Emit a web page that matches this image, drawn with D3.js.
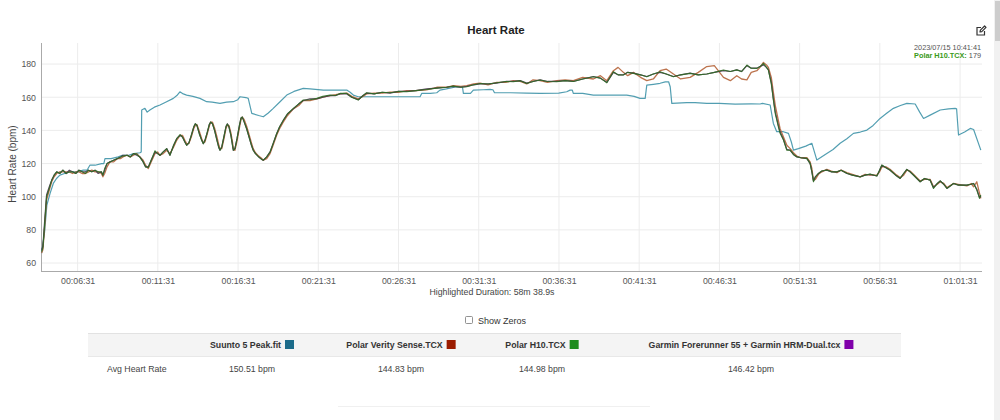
<!DOCTYPE html>
<html><head><meta charset="utf-8">
<script src="https://cdn.jsdelivr.net/npm/d3@7"></script>
<style>
html,body{margin:0;padding:0;background:#fff;}
svg{display:block;font-family:"Liberation Sans",Arial,sans-serif;}
</style></head>
<body>
<svg id="chart" width="1000" height="420"></svg>
<script>
// ---------- DATA ----------
const chartTitle = "Heart Rate";
const yAxisLabel = "Heart Rate (bpm)";
const durationLabel = "Highlighted Duration: 58m 38.9s";
const xTickSeconds = [391, 691, 991, 1291, 1591, 1891, 2191, 2491, 2791, 3091, 3391, 3691];
const yTicks = [60, 80, 100, 120, 140, 160, 180];
const xDomainSec = [254, 3773];
const yDomain = [55.2, 192.7];

const seriesNames = ["Suunto 5 Peak.fit", "Polar Verity Sense.TCX", "Polar H10.TCX", "Garmin Forerunner 55 + Garmin HRM-Dual.tcx"];
const avgHeartRate = ["150.51 bpm", "144.83 bpm", "144.98 bpm", "146.42 bpm"];
const legendColors = ["#1b6b8a", "#9b1c00", "#1e8c1e", "#7f00aa"];
const lineColors = ["#3f93a8", "#b5643a", "#2f6b25", "#4a3350"];
const hoverStamp = "2023/07/15 10:41:41";
const hoverSeries = "Polar H10.TCX:";
const hoverValue = "179";

// shared time axis (minutes) for the three chest / arm sensors
const timeMin = [4.27,4.35,4.45,4.58,4.75,4.90,5.05,5.21,5.40,5.60,5.80,6.00,6.20,6.40,6.60,6.80,7.00,7.20,7.40,7.60,
7.80,8.00,8.09,8.20,8.35,8.53,8.75,9.00,9.20,9.34,9.60,9.80,10.00,10.20,10.40,10.60,10.75,10.92,11.10,11.34,
11.50,11.65,11.85,12.07,
12.27,12.50,12.69,12.90,13.05,13.20,13.31,13.45,13.60,13.75,13.85,13.95,14.10,14.25,14.35,14.45,14.60,14.72,14.81,14.92,
15.05,15.20,15.32,15.39,15.50,15.65,15.77,15.85,15.95,16.07,16.17,16.22,16.32,16.45,16.60,16.70,16.78,16.90,17.05,17.20,
17.35,17.46,17.60,17.80,18.00,18.09,
18.30,18.51,18.70,18.92,19.10,19.33,19.60,19.96,20.30,20.58,21.00,21.42,
21.80,22.25,22.60,22.87,23.29,23.60,24.01,24.30,24.53,25.00,25.50,25.99,26.50,27.03,27.60,28.27,28.90,29.50,29.93,30.40,
30.77,31.20,31.60,32.10,32.64,33.20,33.67,34.10,34.51,34.90,35.34,35.80,36.38,36.90,37.41,38.00,38.66,39.10,39.50,39.91,
40.20,40.53,40.80,41.16,41.60,41.99,42.40,42.82,43.20,43.65,44.10,44.69,45.20,45.73,46.20,46.77,47.20,47.60,47.90,48.23,
48.50,48.85,49.05,49.26,49.45,49.57,49.75,49.88,50.00,50.19,50.30,50.51,50.72,50.93,51.13,51.34,51.60,51.97,52.17,52.28,
52.38,52.50,52.69,52.90,53.21,53.50,53.84,54.10,54.46,54.80,55.29,55.60,55.91,56.33,56.50,56.64,56.90,57.15,57.50,57.78,
58.00,58.20,58.40,58.61,59.03,59.30,59.65,59.86,60.10,60.28,60.50,60.70,61.11,61.40,61.94,62.20,62.36,62.56,62.73,62.81];

const polarH10 = [67,69,82,100,105,110,113,115,114,116,114,115,115,114,116,115,114,116,115,116,
115,115,113,117,120,121,122,123,124,124.5,125,124,126,125.7,123.7,121,118,117.7,122,127.7,
126,125,127,129,
125,131,135,137.5,136,133,131,132.5,137,142,144,143,138,134,132,134,139,143.5,145,144,
140,134,129.5,128,130,137,142.5,143.8,142,137,131,128,129,135,143,147.5,148,145,141,136,
131,128,126,124,122.5,122,
124,127,132,138,142,146,150,153.3,156,158.3,158.5,159.3,
160.5,161.3,161,162.3,162.3,160,158.3,161,162.7,162,163,162.7,163.5,163.3,164,164.7,165.5,166,166.7,166,
166.3,167.5,168.3,168,168.7,169.5,169.3,170,168.3,169.5,170.4,169.5,169.3,170,169.5,171,172.3,171.5,168.7,175.4,
173.5,173.4,175,174.4,173.5,172.3,174,175.4,174,172.3,173.5,174.4,173.5,174,175,176.4,175.5,176.5,175.5,179.4,
177.5,177.4,178.5,180.4,178,176.4,168,158.3,150,142.2,138.2,134.2,128,128.1,125.5,124.1,123.5,123.1,120.1,115,
109,112,114.1,115.5,116.1,115,115,116,114.1,113,112,113,113.7,112.5,116,119.1,117.5,116.1,113,111.1,
114,116.5,115,113.1,109,111,110,105,108,109.6,107.5,105,108,107,107,107.5,108,104,99,101];

const polarVerity = [66,68,80,98,104,109,112,114,115,115,115,115,114,115,115,114,114,115,116,115,
115,114,112,114,118,121,121,123,123,124,125,124,125,126,124,122,119,117,121,126,
127,125,126,128,
126,130,134,137,137,134,132,132,136,141,143,143.5,139.5,135,132.5,133,138,142.5,145,145,
141.5,136,131,129,129,135.5,141.5,143,143,138.5,133,129,128,133.5,141.5,146.5,148,146.5,142.5,137.5,
132.5,129,126.5,124.5,123,122,
123,126,131,137,141,145,149,153,155,158,158,159,
160,161,161.5,162,162.5,160.5,159,160.5,162,162.5,162.5,163,163,164,164,164.5,166,166,167,166.5,
167,168,168.5,167.5,169,169,170,169.5,168,170.5,170,169,170,170.5,170,172,171,173,170,176,
178,175,173,175,172,170,171,176,177,174,171,172,175,178.5,179,172,170,173,171,170.5,
175,176,178,181,179.5,178,172,163,155,146,141,136,131,129,126.5,124.5,123.5,123.5,121,117,
110,110.5,113.5,115,116.5,115.5,114.5,116,114.5,113.5,112,113.5,113,113,115,118,118,116.5,113.5,111.5,
113,116,115.5,113.5,109.5,110.5,110.5,106,107.5,109,108,105.5,108,107.5,106.5,108,106,109,102,99];

const garminDual = [68,70,84,101,106,110,113,115,114,116,114,116,115,114,116,115,115,116,115,116,
114,115,113,116,120,121,122,123,124,125,125,124,126,125,124,121,118,118,122,127,
126,125,127,129,
125,131,135,137,136,133,131,132.5,137,142,144,143,138,134,132,134,139,143.5,145,144,
140,134,129.5,128,130,137,142.5,144,142,137,131,128,129,135,143,147.5,148,145,141,136,
131,128,126,124,122.5,122,
124,127,132,138,142,146,150,153,156,158,159,159,
160,161,161,162,162,160,158.5,161,162.5,162,163,162.5,163.5,163.5,164,165,165.5,166,166.5,166,
166.5,167.5,168,168,168.5,169.5,169.5,170,168.5,169.5,170.5,169.5,169.5,170,169.5,171,172.5,171.5,169,175,
173.5,173.5,175,174.5,173.5,172.5,174,175,174,172.5,173.5,174.5,173.5,174,175,176,175.5,176.5,175.5,179,
177.5,177.5,178.5,179.5,178,176.5,169,159,151,143,139,134.5,128.5,128,125.5,124,123.5,123,120,115,
109.5,112,114,115.5,116,115,115,116,114,113,112,113,113.5,112.5,116,119,117.5,116,113,111,
114,116.5,115,113,109,111,110,105.5,108,109.5,107.5,105,108,107,107,107.5,108,104.5,99.5,100.5];

// Suunto wrist sensor (own, step-like sampling)
const suuntoTimeMin = [4.27,4.45,4.60,4.80,5.00,5.20,5.41,5.70,6.04,6.50,6.87,7.10,7.28,7.60,8.01,8.15,8.22,8.60,9.05,9.30,
9.70,10.00,10.40,10.48,10.51,10.71,10.85,11.02,11.30,11.65,12.00,12.48,12.70,12.89,13.10,13.31,13.70,14.14,14.56,14.90,
15.39,15.80,16.22,16.50,16.64,17.00,17.15,17.37,17.80,18.09,18.40,18.71,19.10,19.55,20.00,20.58,21.00,21.83,22.50,23.29,
23.50,23.70,24.00,24.74,25.50,26.61,27.30,27.86,27.96,28.50,28.90,29.10,29.50,30.15,30.50,30.56,31.00,31.18,31.80,32.22,
32.40,32.50,33.50,34.50,35.34,36.50,37.00,37.21,37.35,37.41,38.00,38.66,39.50,40.74,41.20,41.57,41.89,41.99,42.40,42.82,
43.14,43.35,43.45,43.55,44.48,45.00,45.73,46.50,47.50,48.50,49.05,49.20,49.68,49.88,50.09,50.50,50.82,51.00,51.13,51.44,
51.90,52.28,52.59,53.21,53.60,54.04,54.46,54.87,55.30,55.71,56.10,56.53,56.90,57.36,57.80,58.20,58.72,59.00,59.24,59.65,
60.28,60.80,61.21,61.30,61.42,61.80,62.15,62.36,62.81];
const suunto = [66,78,95,102,108,111,113,114,115,115,116,116,119,119,120,120,123,123,124,125,
125,126,126.5,127,152.3,153.3,151,152.3,154,155.3,157,159.3,161,163.3,162,161.3,160.5,159.3,157.3,157,
156.3,157,157.3,158.5,160.3,159.8,159.3,150.3,149,148.2,150.5,153.3,157,161.3,163.5,165.3,165,164.3,164.3,164.3,
163,161.3,160.3,160.3,160.3,160.3,160.3,160.3,162.3,162.3,162.7,164.3,165,166.3,166.3,162.3,162.3,164.3,164.5,164.7,
164.5,162.7,162.7,162.5,162.3,162.5,163.3,164.3,164.3,162.3,162.3,161.3,161.3,161.3,160.5,159.3,159.3,167.3,167.8,168.4,
169.3,169.3,166.3,156.3,156.7,156.7,156.3,156.3,155.8,156,155.9,156.3,155.3,144.2,139.2,139.2,138.2,133,128.1,129,
130.5,132.2,122.1,126.1,128.5,132.2,135,138.2,139,140.2,143,147.2,150,153.3,155,156.3,155.9,151,147.2,149.2,
152.3,153,153.3,153,137.2,139,141.2,140.5,128.1];

// ---------- CHART ----------
const svg = d3.select("#chart");
const W = 1000, H = 420;
const plot = {left: 41, right: 982, top: 43, bottom: 271};

const x = d3.scaleLinear().domain(xDomainSec).range([plot.left, plot.right]);
const y = d3.scaleLinear().domain(yDomain).range([plot.bottom, plot.top]);

function fmtTime(s){
  const h = Math.floor(s/3600), m = Math.floor((s%3600)/60), sec = Math.round(s%60);
  const p = n => String(n).padStart(2,"0");
  return p(h)+":"+p(m)+":"+p(sec);
}

// page scrollbar
svg.append("rect").attr("x",994).attr("y",0).attr("width",6).attr("height",H).attr("fill","#f1f1f1");
svg.append("rect").attr("x",995).attr("y",1).attr("width",5).attr("height",40).attr("fill","#cdcdcd");

// title
svg.append("text").attr("x",496).attr("y",34).attr("text-anchor","middle")
  .attr("font-size",11.5).attr("font-weight","bold").attr("fill","#222").text(chartTitle);

// edit icon
const ic = svg.append("g").attr("transform","translate(976,26)").attr("fill","none").attr("stroke","#333").attr("stroke-width",1.2);
ic.append("path").attr("d","M5,1.5 H1 V9 H8.5 V5");
ic.append("path").attr("d","M4,6 L4.4,4.2 L8.6,0 L10,1.4 L5.8,5.6 Z").attr("stroke-linejoin","round");

// gridlines
svg.append("g").selectAll("line").data(yTicks).join("line")
  .attr("x1",plot.left).attr("x2",plot.right).attr("y1",d=>y(d)).attr("y2",d=>y(d))
  .attr("stroke","#ececec").attr("stroke-width",1);
svg.append("g").selectAll("line").data(xTickSeconds).join("line")
  .attr("y1",plot.top).attr("y2",plot.bottom).attr("x1",d=>x(d)).attr("x2",d=>x(d))
  .attr("stroke","#ececec").attr("stroke-width",1);

// axes
const xAxis = d3.axisBottom(x).tickValues(xTickSeconds).tickFormat(fmtTime).tickSize(0).tickPadding(7);
const gx = svg.append("g").attr("transform",`translate(0,${plot.bottom})`).call(xAxis);
gx.select(".domain").attr("stroke","#aaa").attr("d",`M${plot.left},0.5H${plot.right}`);
gx.selectAll("text").attr("font-size",8.75).attr("fill","#555").attr("font-family","Liberation Sans, Arial, sans-serif");

const yAxis = d3.axisLeft(y).tickValues(yTicks).tickSize(0).tickPadding(5);
const gy = svg.append("g").attr("transform",`translate(${plot.left},0)`).call(yAxis);
gy.select(".domain").attr("stroke","#aaa").attr("d",`M0.5,${plot.top}V${plot.bottom}`);
gy.selectAll("text").attr("font-size",8.75).attr("fill","#555").attr("font-family","Liberation Sans, Arial, sans-serif");

svg.append("text").attr("transform",`translate(16,${(plot.top+plot.bottom)/2+7}) rotate(-90)`)
  .attr("text-anchor","middle").attr("font-size",10).attr("fill","#444").text(yAxisLabel);

svg.append("text").attr("x",492).attr("y",295).attr("text-anchor","middle")
  .attr("font-size",8.75).attr("fill","#444").text(durationLabel);

// lines
svg.append("clipPath").attr("id","plotclip").append("rect")
  .attr("x",plot.left).attr("y",plot.top).attr("width",plot.right-plot.left).attr("height",plot.bottom-plot.top);
const lineGen = d3.line().x(d=>x(d[0]*60)).y(d=>y(d[1]));
const gl = svg.append("g").attr("clip-path","url(#plotclip)").attr("fill","none").attr("stroke-linejoin","round");
const allSeries = [
  {pts: d3.zip(suuntoTimeMin, suunto), color: lineColors[0], w: 1.2},
  {pts: d3.zip(timeMin, polarVerity), color: lineColors[1], w: 1.3},
  {pts: d3.zip(timeMin, garminDual), color: lineColors[3], w: 1.2},
  {pts: d3.zip(timeMin, polarH10), color: lineColors[2], w: 1.1},
];
allSeries.forEach(s=>{
  gl.append("path").attr("d",lineGen(s.pts)).attr("stroke",s.color).attr("stroke-width",s.w).attr("stroke-opacity",0.9);
});

// hover stamp
svg.append("text").attr("x",981).attr("y",50).attr("text-anchor","end").attr("font-size",7.3).attr("fill","#555").text(hoverStamp);
const ht = svg.append("text").attr("x",981).attr("y",58).attr("text-anchor","end").attr("font-size",7.3);
ht.append("tspan").attr("fill","#3a9a1a").attr("font-weight","bold").text(hoverSeries);
ht.append("tspan").attr("fill","#555").text(" " + hoverValue);

// show zeros checkbox
svg.append("rect").attr("x",465.5).attr("y",316.5).attr("width",7).attr("height",7).attr("rx",1)
  .attr("fill","#fff").attr("stroke","#777").attr("stroke-width",0.8);
svg.append("text").attr("x",478).attr("y",323.5).attr("font-size",9).attr("fill","#333").text("Show Zeros");

// table
svg.append("rect").attr("x",88).attr("y",333).attr("width",813).attr("height",24).attr("fill","#f4f4f4");
svg.append("line").attr("x1",88).attr("x2",901).attr("y1",333.5).attr("y2",333.5).attr("stroke","#e2e2e2");
svg.append("line").attr("x1",88).attr("x2",901).attr("y1",356.5).attr("y2",356.5).attr("stroke","#e8e8e8");
const colCenters = [252, 401, 542, 751];
seriesNames.forEach((name,i)=>{
  const g = svg.append("g");
  const t = g.append("text").attr("y",348).attr("font-size",8.75).attr("font-weight","bold").attr("fill","#333").text(name);
  const w = t.node().getComputedTextLength();
  const total = w + 4 + 9;
  const x0 = colCenters[i] - total/2;
  t.attr("x", x0);
  g.append("rect").attr("x", x0 + w + 4).attr("y",340).attr("width",9).attr("height",9).attr("fill",legendColors[i]);
  svg.append("text").attr("x",colCenters[i]).attr("y",372).attr("text-anchor","middle")
    .attr("font-size",8.75).attr("fill","#444").text(avgHeartRate[i]);
});
svg.append("text").attr("x",107).attr("y",372).attr("font-size",8.75).attr("fill","#444").text("Avg Heart Rate");

svg.append("line").attr("x1",338).attr("x2",650).attr("y1",406.5).attr("y2",406.5).attr("stroke","#f0f0f0");
</script>
</body></html>
